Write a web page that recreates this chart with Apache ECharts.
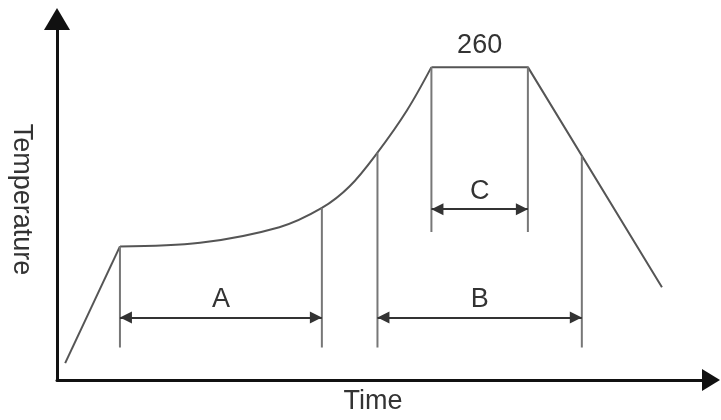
<!DOCTYPE html>
<html>
<head>
<meta charset="utf-8">
<title>Temperature profile</title>
<script src="https://cdn.jsdelivr.net/npm/echarts@6/dist/echarts.min.js"></script>
<style>
  html, body { margin: 0; padding: 0; background: #fff; }
  #main { width: 721px; height: 420px; }
</style>
</head>
<body>
<div id="main"></div>
<script>
// profile, [time, temperature]
var rampUp = [[5, 14], [38.5, 111]];
var soakCurve = [[38.5, 111], [87.5, 114], [136, 127], [162, 143], [179, 161], [196, 189], [214, 224], [229, 260]];
var peakDown = [[229, 260], [288, 260], [370, 77]];
var peakTemp = 260;

// vertical guide lines
var guideX      = [38.5, 162, 196, 229, 288, 321];
var guideTop    = [111, 143, 189, 260, 260, 186];
var guideBottom = [27, 27, 27, 123, 123, 27];

// dimension arrows
var dimNames = ['A', 'B', 'C'];
var dimFrom  = [38.5, 196, 229];
var dimTo    = [162, 321, 288];
var dimY     = [52, 52, 142];

var font = '"Liberation Sans", Arial, sans-serif';
var lineGray = '#555';

var series = [
  { type: 'line', data: rampUp, showSymbol: false, lineStyle: { color: lineGray, width: 2 } },
  { type: 'line', data: soakCurve, smooth: 0.35, showSymbol: false, lineStyle: { color: lineGray, width: 2 } },
  {
    type: 'line', data: peakDown, showSymbol: false, lineStyle: { color: lineGray, width: 2 },
    markPoint: {
      symbol: 'circle', symbolSize: 0, silent: true,
      label: { show: true, position: 'top', distance: 8, formatter: String(peakTemp),
               fontFamily: font, fontSize: 27, color: '#333' },
      data: [{ coord: [(peakDown[0][0] + peakDown[1][0]) / 2, peakTemp] }]
    }
  }
];

for (var i = 0; i < guideX.length; i++) {
  series.push({
    type: 'line', showSymbol: false, silent: true,
    data: [[guideX[i], guideTop[i]], [guideX[i], guideBottom[i]]],
    lineStyle: { color: '#777', width: 2 }
  });
}

var dimData = [];
for (var j = 0; j < dimNames.length; j++) {
  dimData.push([
    { coord: [dimFrom[j], dimY[j]], name: dimNames[j] },
    { coord: [dimTo[j], dimY[j]] }
  ]);
}
series.push({
  type: 'line', data: [],
  markLine: {
    silent: true,
    symbol: ['triangle', 'triangle'],
    symbolSize: 12,
    symbolOffset: [[0, 6], [0, 6]],
    lineStyle: { color: '#333', width: 2, type: 'solid' },
    label: { show: true, position: 'middle', distance: 4, formatter: '{b}',
             fontFamily: font, fontSize: 27, color: '#333' },
    data: dimData
  }
});

var chart = echarts.init(document.getElementById('main'));
chart.setOption({
  animation: false,
  grid: { left: 57, right: 10, top: 19, bottom: 40, outerBoundsMode: 'none', containLabel: false },
  xAxis: {
    type: 'value', min: 0, max: 400,
    name: 'Time', nameLocation: 'middle', nameGap: 8,
    nameTextStyle: { fontFamily: font, fontSize: 27, color: '#333', padding: [0, 22, 0, 0] },
    axisLine: { lineStyle: { color: '#111', width: 3 }, symbol: ['none', 'triangle'], symbolSize: [22, 18] },
    axisTick: { show: false }, axisLabel: { show: false }, splitLine: { show: false }
  },
  yAxis: {
    type: 'value', min: 0, max: 300,
    name: 'Temperature', nameLocation: 'middle', nameGap: 22, nameRotate: -90,
    nameTextStyle: { fontFamily: font, fontSize: 27, color: '#333' },
    axisLine: { lineStyle: { color: '#111', width: 3 }, symbol: ['none', 'triangle'], symbolSize: [26, 22] },
    axisTick: { show: false }, axisLabel: { show: false }, splitLine: { show: false }
  },
  series: series
});
</script>
</body>
</html>
